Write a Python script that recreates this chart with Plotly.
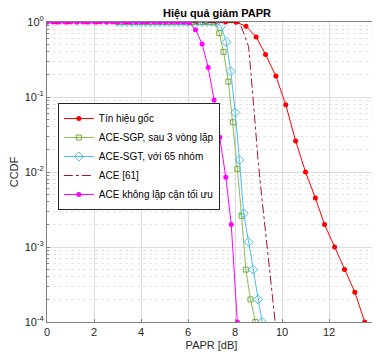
import plotly.graph_objects as go

# ---- data ----
red_x = [0.0, 0.42, 0.85, 1.27, 1.69, 2.11, 2.54, 2.96, 3.38, 3.80, 4.22, 4.65, 5.07,
         5.49, 5.91, 6.33, 6.75, 7.18, 7.60, 8.05, 8.47, 8.90, 9.30, 9.74, 10.16,
         10.58, 11.00, 11.42, 11.81, 12.24, 12.66, 13.10, 13.52]
red_y = [1, 1, 1, 1, 1, 1, 1, 1, 1, 1, 1, 1, 1,
         1, 1, 1, 1, 1, 1, 0.99, 0.88, 0.63, 0.37, 0.19, 0.079,
         0.026, 0.010, 0.0045, 0.0020, 0.0010, 0.0005, 0.00025, 0.0001]

sgp_x = [3.0, 3.2, 3.39, 3.59, 3.78, 3.98, 4.18, 4.37, 4.57, 4.76, 4.96, 5.16, 5.35,
         5.55, 5.74, 5.94, 6.14, 6.33, 6.53, 6.72, 6.92, 7.12, 7.33, 7.51, 7.72,
         7.91, 8.10, 8.28, 8.46, 8.66, 8.87]
sgp_y = [1, 1, 1, 1, 1, 1, 1, 1, 1, 1, 1, 1, 1,
         1, 1, 1, 1, 1, 1, 1, 1, 0.99, 0.71, 0.40, 0.16,
         0.046, 0.011, 0.0026, 0.0005, 0.0002, 0.0001]

sgt_x = [3.0, 3.2, 3.4, 3.6, 3.8, 4.0, 4.2, 4.4, 4.6, 4.8, 5.0, 5.2, 5.4, 5.6,
         5.8, 6.0, 6.2, 6.4, 6.6, 6.8, 7.0, 7.2, 7.41, 7.63, 7.82, 8.01,
         8.19, 8.37, 8.58, 8.77, 8.98, 9.15]
sgt_y = [1, 1, 1, 1, 1, 1, 1, 1, 1, 1, 1, 1, 1, 1,
         1, 1, 1, 1, 1, 1, 1, 0.99, 0.88, 0.54, 0.22, 0.062,
         0.0145, 0.0028, 0.00117, 0.0005, 0.0002, 0.0001]

ace_x = [3.0, 4.0, 5.0, 6.0, 7.0, 7.8, 8.2, 8.37, 8.58, 8.80, 8.98, 9.15, 9.44, 9.71]
ace_y = [1, 1, 1, 1, 1, 1, 0.98, 0.71, 0.47, 0.074, 0.0145, 0.0043, 0.00066, 0.0001]

mag_x = [0.0, 0.25, 0.51, 0.76, 1.01, 1.26, 1.52, 1.77, 2.02, 2.27, 2.53, 2.78,
         3.03, 3.28, 3.54, 3.79, 4.04, 4.29, 4.55, 4.80, 5.05, 5.30, 5.56, 5.81,
         6.06, 6.32, 6.60, 6.86, 7.11, 7.35, 7.61, 7.84, 8.10]
mag_y = [1, 1, 1, 1, 1, 1, 1, 1, 1, 1, 1, 1,
         1, 1, 1, 1, 1, 1, 1, 1, 1, 1, 1, 1,
         0.98, 0.79, 0.51, 0.247, 0.091, 0.029, 0.0085, 0.002, 0.0001]

names = ["Tín hiệu gốc", "ACE-SGP, sau 3 vòng lặp", "ACE-SGT, với 65 nhóm",
         "ACE [61]", "ACE không lặp cận tối ưu"]

x_ticks = [0, 2, 4, 6, 8, 10, 12, 14]
y_ticks = [1e-4, 1e-3, 1e-2, 1e-1, 1]
y_ticktext = ["10<sup>-4</sup>", "10<sup>-3</sup>", "10<sup>-2</sup>",
              "10<sup>-1</sup>", "10<sup>0</sup>"]

FONT = "Liberation Sans, Arial, sans-serif"

fig = go.Figure()
fig.add_trace(go.Scatter(x=red_x, y=red_y, name=names[0], mode="lines+markers",
                         line=dict(color="#FF0000", width=1),
                         marker=dict(symbol="circle", size=5, color="#FF0000")))
fig.add_trace(go.Scatter(x=sgp_x, y=sgp_y, name=names[1], mode="lines+markers",
                         line=dict(color="#8DBB5A", width=1),
                         marker=dict(symbol="square-open", size=5, color="#77AC30",
                                     line=dict(width=1))))
fig.add_trace(go.Scatter(x=sgt_x, y=sgt_y, name=names[2], mode="lines+markers",
                         line=dict(color="#4DBEEE", width=1),
                         marker=dict(symbol="diamond-open", size=7, color="#4DBEEE",
                                     line=dict(width=1))))
fig.add_trace(go.Scatter(x=ace_x, y=ace_y, name=names[3], mode="lines",
                         line=dict(color="#A2142F", width=1, dash="dashdot")))
fig.add_trace(go.Scatter(x=mag_x, y=mag_y, name=names[4], mode="lines+markers",
                         line=dict(color="#FF00FF", width=1),
                         marker=dict(symbol="circle", size=5, color="#FF00FF")))

# the page body adds an 8px margin, so the figure is sized to fit inside it
fig.update_layout(
    width=372, height=347,
    margin=dict(l=36, r=3, t=14, b=33),
    paper_bgcolor="white", plot_bgcolor="white",
    font=dict(family=FONT, size=11, color="#262626"),
    title=dict(text="<b>Hiệu quả giảm PAPR</b>", x=0.562, xanchor="center",
               y=0.997, yanchor="top", font=dict(size=11, color="#000000")),
    showlegend=True,
    legend=dict(x=0.033, y=0.73, xanchor="left", yanchor="top",
                bgcolor="white", bordercolor="#262626", borderwidth=1,
                font=dict(size=10, color="#000000"), itemwidth=30,
                tracegroupgap=0),
)
fig.update_xaxes(range=[0, 14], tickvals=x_ticks, showgrid=True,
                 gridcolor="#DCDCDC", gridwidth=1, zeroline=False,
                 showline=True, linecolor="#808080", linewidth=1, mirror=True,
                 ticks="inside", ticklen=3, tickcolor="#808080",
                 title=dict(text="PAPR [dB]", standoff=4, font=dict(size=11)),
                 tickfont=dict(size=11))
fig.update_yaxes(type="log", range=[-4, 0], tickvals=y_ticks, ticktext=y_ticktext,
                 showgrid=True, gridcolor="#DCDCDC", gridwidth=1, zeroline=False,
                 showline=True, linecolor="#808080", linewidth=1, mirror=True,
                 ticks="inside", ticklen=3, tickcolor="#808080",
                 minor=dict(showgrid=True, gridcolor="#E6E6E6", griddash="dot",
                            dtick="D1", ticks="inside", ticklen=2, tickcolor="#808080"),
                 title=dict(text="CCDF", standoff=6, font=dict(size=11)),
                 tickfont=dict(size=11))

fig.write_html("out.html")
